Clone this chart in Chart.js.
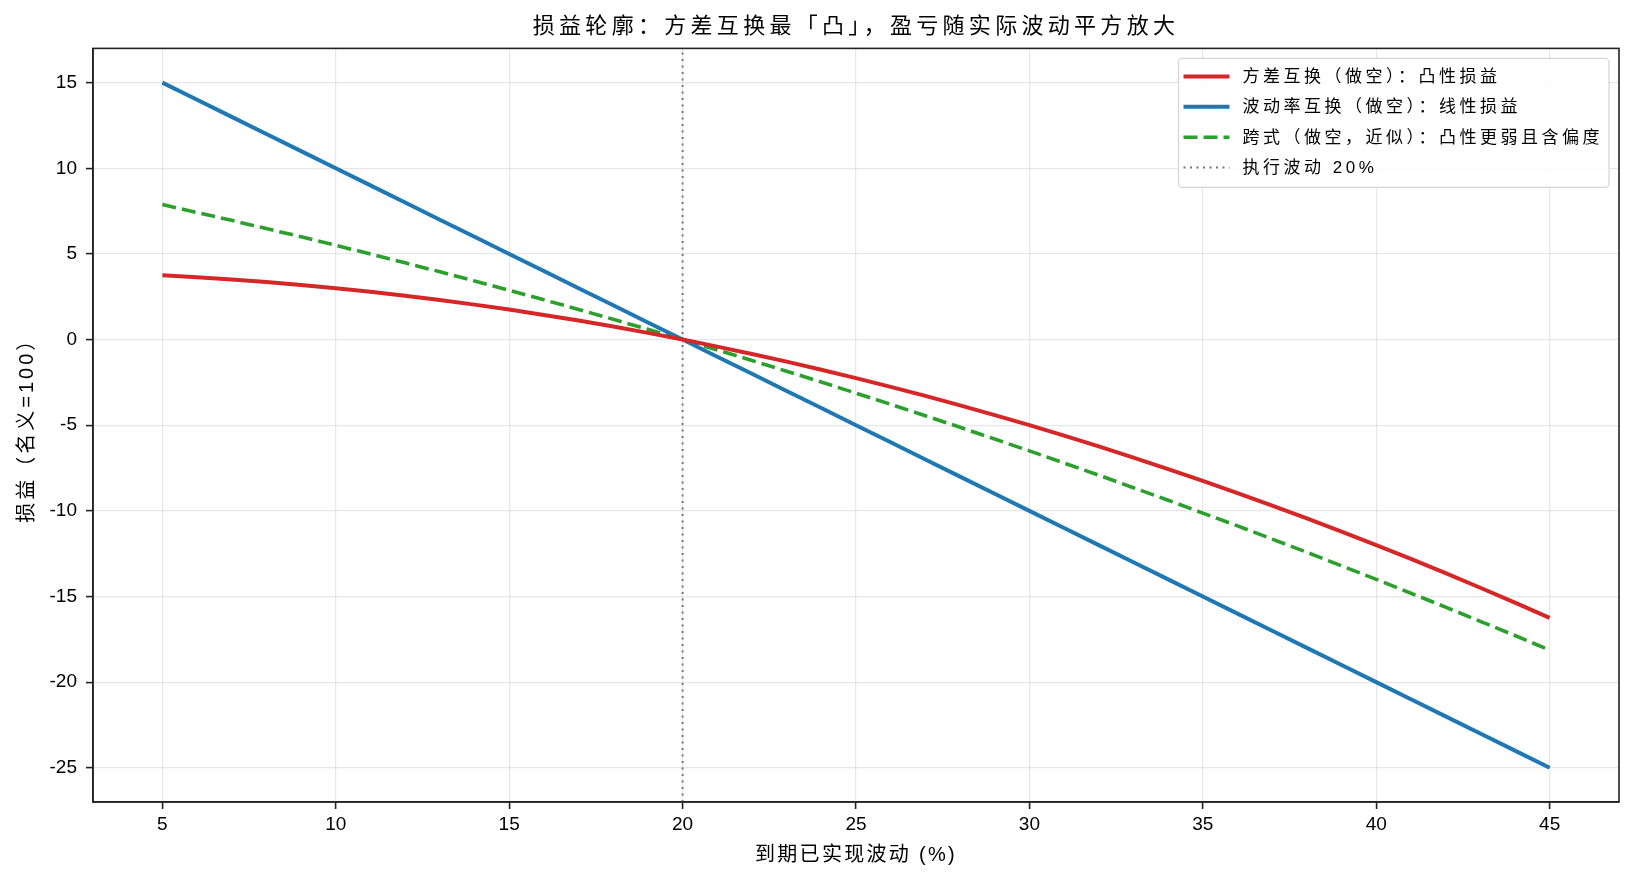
<!DOCTYPE html>
<html lang="zh">
<head>
  <meta charset="UTF-8" />
  <title>损益轮廓</title>
  <script src="https://cdn.jsdelivr.net/npm/chart.js"></script>
  <style>
    body {
      margin: 0;
      background: #fff;
    }

    #chartBox {
      width: 1634px;
      height: 884px;
    }
  </style>
</head>
<body>

  <div id="chartBox">
    <canvas id="pnlChart"></canvas>
  </div>

  <script>
    // 到期已实现波动 (%)
    const realizedVol = [5, 6, 7, 8, 9, 10, 11, 12, 13, 14, 15, 16, 17, 18, 19, 20,
      21, 22, 23, 24, 25, 26, 27, 28, 29, 30, 31, 32, 33, 34, 35, 36, 37, 38, 39, 40,
      41, 42, 43, 44, 45];

    // 方差互换（做空）
    const varSwapPnl = [3.75, 3.64, 3.51, 3.36, 3.19, 3.00, 2.79, 2.56, 2.31, 2.04,
      1.75, 1.44, 1.11, 0.76, 0.39, 0, -0.41, -0.84, -1.29, -1.76, -2.25, -2.76, -3.29,
      -3.84, -4.41, -5.00, -5.61, -6.24, -6.89, -7.56, -8.25, -8.96, -9.69, -10.44,
      -11.21, -12.00, -12.81, -13.64, -14.49, -15.36, -16.25];

    // 波动率互换（做空）
    const volSwapPnl = [15, 14, 13, 12, 11, 10, 9, 8, 7, 6, 5, 4, 3, 2, 1, 0,
      -1, -2, -3, -4, -5, -6, -7, -8, -9, -10, -11, -12, -13, -14, -15, -16, -17,
      -18, -19, -20, -21, -22, -23, -24, -25];

    // 跨式（做空，近似）
    const straddlePnl = [7.88, 7.42, 6.96, 6.48, 6.00, 5.50, 5.00, 4.48, 3.96, 3.42,
      2.88, 2.32, 1.76, 1.18, 0.60, 0, -0.61, -1.22, -1.85, -2.48, -3.13, -3.78, -4.45,
      -5.12, -5.81, -6.50, -7.21, -7.92, -8.65, -9.38, -10.13, -10.88, -11.65, -12.42,
      -13.21, -14.00, -14.81, -15.62, -16.45, -17.28, -18.13];

    const strikeVol = 20;

    const xTicks = [5, 10, 15, 20, 25, 30, 35, 40, 45];
    const yTicks = [-25, -20, -15, -10, -5, 0, 5, 10, 15];
    const xMin = 3, xMax = 47;
    const yMin = -27, yMax = 17;

    const family = '"Liberation Sans", "Noto Sans CJK SC", sans-serif';
    Chart.defaults.font.family = family;
    Chart.defaults.color = '#000';

    // 中文字距稍宽一些（标题和坐标轴名称）
    function spaced(obj, method, spacing, ctx) {
      if (!obj || obj['_sp_' + method]) return;
      const orig = obj[method].bind(obj);
      obj[method] = function (...args) {
        ctx.save();
        ctx.letterSpacing = spacing;
        orig(...args);
        ctx.restore();
      };
      obj['_sp_' + method] = true;
    }

    const wideText = {
      id: 'wideText',
      beforeDraw(chart) {
        spaced(chart.titleBlock, 'draw', '4.3px', chart.ctx);
        spaced(chart.scales.x, 'drawTitle', '2.3px', chart.ctx);
        spaced(chart.scales.y, 'drawTitle', '3px', chart.ctx);
      }
    };

    // 图例框（右上角，带半透明白底）和四周边框
    const frameAndLegend = {
      id: 'frameAndLegend',
      afterDraw(chart) {
        const { ctx, chartArea } = chart;
        ctx.save();

        ctx.strokeStyle = '#222';
        ctx.lineWidth = 1.6;
        ctx.strokeRect(chartArea.left, chartArea.top, chartArea.right - chartArea.left, chartArea.bottom - chartArea.top);

        ctx.font = '17px ' + family;
        ctx.letterSpacing = '3.5px';
        const sets = chart.data.datasets;
        const textW = Math.max(...sets.map(d => ctx.measureText(d.label).width));
        const lineLen = 46;
        const boxW = 5 + lineLen + 13 + textW + 6;
        const boxH = 129;
        const x0 = chartArea.right - 10 - boxW;
        const y0 = chartArea.top + 10;

        ctx.beginPath();
        ctx.roundRect(x0, y0, boxW, boxH, 4);
        ctx.fillStyle = 'rgba(255,255,255,0.85)';
        ctx.fill();
        ctx.strokeStyle = '#d4d4d4';
        ctx.lineWidth = 1.2;
        ctx.stroke();

        sets.forEach((d, i) => {
          const y = y0 + 18 + i * 30.4;
          ctx.beginPath();
          ctx.strokeStyle = d.borderColor;
          ctx.lineWidth = d.borderWidth;
          ctx.setLineDash(d.borderDash || []);
          ctx.moveTo(x0 + 5, y);
          ctx.lineTo(x0 + 5 + lineLen, y);
          ctx.stroke();
          ctx.setLineDash([]);
          ctx.fillStyle = '#000';
          ctx.textBaseline = 'middle';
          ctx.textAlign = 'left';
          ctx.fillText(d.label, x0 + 5 + lineLen + 13, y + 1);
        });

        ctx.restore();
      }
    };

    const ctx = document.getElementById('pnlChart').getContext('2d');

    new Chart(ctx, {
      type: 'line',
      data: {
        labels: realizedVol,
        datasets: [
          {
            label: '方差互换（做空）：凸性损益',
            data: varSwapPnl,
            borderColor: '#d62728',
            borderWidth: 4,
            pointRadius: 0,
            tension: 0
          },
          {
            label: '波动率互换（做空）：线性损益',
            data: volSwapPnl,
            borderColor: '#1f77b4',
            borderWidth: 4,
            pointRadius: 0,
            tension: 0
          },
          {
            label: '跨式（做空，近似）：凸性更弱且含偏度',
            data: straddlePnl,
            borderColor: '#2ca02c',
            borderWidth: 3.6,
            borderDash: [14, 6],
            pointRadius: 0,
            tension: 0
          },
          {
            label: '执行波动 20%',
            data: [{ x: strikeVol, y: yMin }, { x: strikeVol, y: yMax }],
            borderColor: '#777',
            borderWidth: 2,
            borderDash: [2, 4.5],
            pointRadius: 0
          }
        ]
      },
      options: {
        responsive: true,
        maintainAspectRatio: false,
        animation: false,
        layout: {
          padding: { left: 0, right: 15, top: 0, bottom: 0 }
        },
        plugins: {
          legend: { display: false },
          tooltip: { enabled: false },
          title: {
            display: true,
            fullSize: false,
            text: '损益轮廓：方差互换最「凸」，盈亏随实际波动平方放大',
            font: { size: 22, weight: 'normal' },
            color: '#000',
            padding: { top: 14, bottom: 8 }
          }
        },
        scales: {
          x: {
            type: 'linear',
            min: xMin,
            max: xMax,
            afterBuildTicks: scale => {
              scale.ticks = xTicks.map(v => ({ value: v }));
            },
            afterFit: scale => {
              scale.height = 82;
            },
            ticks: {
              font: { size: 19 },
              color: '#000',
              padding: 4,
              maxRotation: 0
            },
            grid: {
              color: 'rgba(176,176,176,0.3)',
              lineWidth: 1.2,
              tickLength: 7,
              tickColor: '#222',
              tickWidth: 1.6
            },
            border: { color: '#222', width: 1.6 },
            title: {
              display: true,
              text: '到期已实现波动 (%)',
              font: { size: 20 },
              color: '#000',
              padding: { top: 0, bottom: 17 }
            }
          },
          y: {
            min: yMin,
            max: yMax,
            afterBuildTicks: scale => {
              scale.ticks = yTicks.map(v => ({ value: v }));
            },
            afterFit: scale => {
              scale.width = 93;
            },
            ticks: {
              font: { size: 19 },
              color: '#000',
              padding: 9
            },
            grid: {
              color: 'rgba(176,176,176,0.3)',
              lineWidth: 1.2,
              tickLength: 7,
              tickColor: '#222',
              tickWidth: 1.6
            },
            border: { color: '#222', width: 1.6 },
            title: {
              display: true,
              text: '损益（名义=100）',
              font: { size: 20 },
              color: '#000',
              padding: { top: 15, bottom: 0 }
            }
          }
        }
      },
      plugins: [wideText, frameAndLegend]
    });
  </script>

</body>
</html>
